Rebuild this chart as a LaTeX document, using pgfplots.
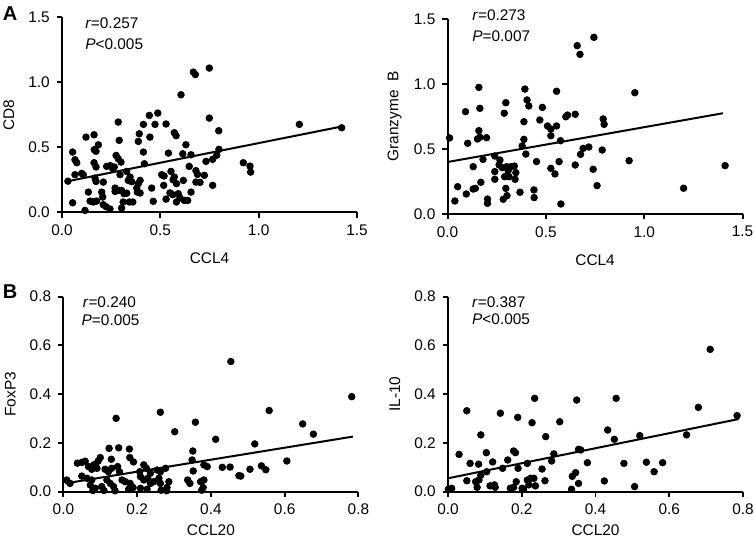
\documentclass[border=0pt]{standalone}
\usepackage{fontspec}
\setmainfont{Liberation Sans}
\usepackage{pgfplots}
\pgfplotsset{compat=1.18}
\newcommand\fs{\fontsize{7.7}{9.2}\selectfont}
\pgfplotsset{
  myax/.style={
    scale only axis, width=147.5pt, height=97.5pt,
    axis x line*=bottom, axis y line*=left,
    axis line style={line width=0.95pt,-},
    tick align=outside, major tick length=2.6pt,
    every tick/.style={black,line width=0.95pt},
    tick label style={font=\fs},
    label style={font=\fs},
    xmin=0, ymin=0,
    clip=false,
    scaled ticks=false,
    /pgf/number format/fixed,
    /pgf/number format/fixed zerofill,
    /pgf/number format/precision=1,
    /pgf/number format/assume math mode=true,
  },
  dots/.style={only marks, mark=*, mark size=1.65pt, black},
  reg/.style={black, line width=1pt, no marks},
}
\begin{document}
\begin{tikzpicture}
% ---------- A left ----------
\begin{axis}[myax, at={(31pt,163.3pt)}, anchor=south west,
  xmax=1.5, ymax=1.5, xtick={0,0.5,1,1.5}, ytick={0,0.5,1,1.5},
  xlabel={CCL4}, ylabel={CD8},
  xlabel style={at={(axis description cs:0.5,-0.236)},anchor=center},
  ylabel style={at={(axis description cs:-0.18,0.5)},anchor=center,rotate=0}]
\addplot[dots] table {
0.668 1.079
0.678 1.06
0.749 1.11
0.605 0.905
0.749 0.725
0.286 0.695
0.444 0.746
0.487 0.764
0.414 0.677
0.473 0.677
0.529 0.68
0.122 0.579
0.163 0.597
0.393 0.605
0.447 0.579
0.571 0.613
0.58 0.59
0.797 0.628
0.291 0.554
0.388 0.546
0.185 0.52
0.164 0.482
0.173 0.47
0.63 0.52
0.054 0.464
0.066 0.405
0.075 0.382
0.414 0.464
0.541 0.456
0.275 0.438
0.286 0.413
0.3 0.387
0.614 0.451
0.656 0.443
0.787 0.44
0.798 0.485
0.163 0.382
0.173 0.349
0.227 0.354
0.245 0.36
0.258 0.336
0.266 0.349
0.329 0.315
0.346 0.272
0.337 0.246
0.419 0.374
0.507 0.29
0.519 0.28
0.554 0.315
0.571 0.272
0.647 0.354
0.681 0.321
0.689 0.292
0.724 0.285
0.732 0.392
0.766 0.408
0.03 0.24
0.066 0.29
0.1 0.3
0.108 0.29
0.168 0.264
0.173 0.238
0.21 0.233
0.295 0.29
0.354 0.236
0.397 0.246
0.388 0.221
0.456 0.187
0.517 0.208
0.565 0.251
0.582 0.221
0.617 0.246
0.681 0.233
0.702 0.231
0.766 0.208
0.054 0.074
0.134 0.156
0.143 0.087
0.159 0.08
0.176 0.087
0.202 0.156
0.207 0.118
0.21 0.059
0.224 0.044
0.244 0.026
0.27 0.187
0.27 0.161
0.292 0.169
0.303 0.169
0.315 0.144
0.311 0.08
0.329 0.148
0.303 0.033
0.343 0.08
0.36 0.08
0.38 0.187
0.383 0.156
0.397 0.149
0.464 0.085
0.529 0.102
0.549 0.15
0.563 0.136
0.591 0.144
0.6 0.111
0.582 0.08
0.622 0.092
0.639 0.092
0.656 0.156
0.117 0.015
0.922 0.382
0.956 0.356
0.959 0.31
1.207 0.677
1.422 0.651
};
\addplot[reg] coordinates {(0.03,0.24) (1.42,0.66)};
\node[anchor=west,font=\fs] at (axis description cs:0.055,0.97) {\textit{r}=0.257};
\node[anchor=west,font=\fs] at (axis description cs:0.055,0.862) {\textit{P}<0.005};
\end{axis}
% ---------- A right ----------
\begin{axis}[myax, at={(223.8pt,162.5pt)}, anchor=south west,
  xmax=1.5, ymax=1.5, xtick={0,0.5,1,1.5}, ytick={0,0.5,1,1.5},
  xlabel={CCL4}, ylabel={Granzyme\ \ B},
  xlabel style={at={(axis description cs:0.5,-0.236)},anchor=center},
  ylabel style={at={(axis description cs:-0.18,0.5)},anchor=center,rotate=0}]
\addplot[dots] table {
0.744 1.359
0.659 1.295
0.673 1.228
0.159 0.974
0.393 0.961
0.554 0.944
0.952 0.933
0.404 0.877
0.413 0.831
0.296 0.856
0.091 0.787
0.164 0.813
0.288 0.775
0.482 0.82
0.388 0.71
0.469 0.723
0.601 0.748
0.61 0.761
0.649 0.767
0.791 0.731
0.796 0.69
0.508 0.677
0.525 0.654
0.554 0.677
0.525 0.602
0.159 0.641
0.152 0.577
0.164 0.59
0.198 0.587
0.01 0.585
0.102 0.544
0.388 0.574
0.379 0.523
0.574 0.564
0.689 0.505
0.718 0.515
0.786 0.492
0.398 0.461
0.18 0.42
0.24 0.446
0.676 0.459
0.13 0.364
0.266 0.415
0.262 0.377
0.278 0.356
0.3 0.364
0.308 0.333
0.322 0.364
0.339 0.369
0.347 0.318
0.312 0.287
0.343 0.267
0.29 0.287
0.24 0.326
0.24 0.267
0.452 0.403
0.525 0.351
0.546 0.308
0.567 0.403
0.649 0.377
0.74 0.344
0.923 0.41
0.76 0.218
0.051 0.21
0.095 0.154
0.13 0.192
0.141 0.197
0.169 0.244
0.296 0.197
0.302 0.141
0.368 0.167
0.439 0.185
0.44 0.126
0.203 0.115
0.203 0.082
0.283 0.113
0.037 0.1
0.576 0.077
1.2 0.198
1.411 0.372
};
\addplot[reg] coordinates {(0.0,0.40) (1.40,0.775)};
\node[anchor=west,font=\fs] at (axis description cs:0.06,1.02) {\textit{r}=0.273};
\node[anchor=west,font=\fs] at (axis description cs:0.06,0.912) {\textit{P}=0.007};
\end{axis}
% ---------- B left ----------
\begin{axis}[myax, at={(31.7pt,23.65pt)}, anchor=south west,
  xmax=0.8, ymax=0.8, xtick={0,0.2,0.4,0.6,0.8}, ytick={0,0.2,0.4,0.6,0.8},
  xlabel={CCL20}, ylabel={FoxP3},
  xlabel style={at={(axis description cs:0.5,-0.2)},anchor=center},
  ylabel style={at={(axis description cs:-0.18,0.5)},anchor=center,rotate=0}]
\addplot[dots] table {
0.143 0.301
0.263 0.326
0.302 0.246
0.358 0.285
0.124 0.178
0.15 0.18
0.179 0.175
0.351 0.167
0.13 0.133
0.18 0.14
0.19 0.122
0.1 0.14
0.094 0.125
0.038 0.117
0.05 0.12
0.059 0.125
0.068 0.103
0.077 0.092
0.082 0.11
0.091 0.096
0.113 0.092
0.122 0.082
0.131 0.096
0.147 0.103
0.152 0.082
0.218 0.11
0.225 0.096
0.207 0.082
0.236 0.076
0.254 0.089
0.263 0.082
0.277 0.096
0.349 0.13
0.352 0.085
0.381 0.11
0.39 0.103
0.009 0.048
0.018 0.034
0.05 0.064
0.064 0.055
0.077 0.048
0.073 0.027
0.086 0.014
0.104 0.021
0.118 0.048
0.127 0.034
0.136 0.021
0.159 0.048
0.168 0.041
0.181 0.034
0.189 0.017
0.209 0.062
0.218 0.048
0.229 0.055
0.236 0.034
0.245 0.041
0.177 0.01
0.209 0.014
0.227 0.01
0.259 0.055
0.263 0.034
0.281 0.017
0.286 0.041
0.337 0.048
0.343 0.034
0.372 0.041
0.381 0.048
0.379 0.017
0.08 0.005
0.11 0.005
0.14 0.004
0.265 0.006
0.28 0.004
0.375 0.006
0.454 0.534
0.782 0.39
0.558 0.333
0.649 0.278
0.678 0.236
0.519 0.196
0.413 0.215
0.606 0.126
0.431 0.1
0.452 0.101
0.476 0.066
0.481 0.064
0.506 0.092
0.537 0.106
0.549 0.09
};
\addplot[reg] coordinates {(0.005,0.034) (0.785,0.226)};
\node[anchor=west,font=\fs] at (axis description cs:0.042,0.972) {\textit{r}=0.240};
\node[anchor=west,font=\fs] at (axis description cs:0.038,0.878) {\textit{P}=0.005};
\end{axis}
% ---------- B right ----------
\begin{axis}[myax, at={(224pt,23.65pt)}, anchor=south west,
  xmax=0.8, ymax=0.8, xtick={0,0.2,0.4,0.6,0.8}, ytick={0,0.2,0.4,0.6,0.8},
  xlabel={CCL20}, ylabel={IL-10},
  xlabel style={at={(axis description cs:0.5,-0.2)},anchor=center},
  ylabel style={at={(axis description cs:-0.18,0.5)},anchor=center,rotate=0}]
\addplot[dots] table {
0.051 0.332
0.142 0.322
0.189 0.305
0.228 0.283
0.303 0.287
0.235 0.383
0.349 0.376
0.433 0.253
0.089 0.233
0.265 0.226
0.451 0.215
0.03 0.153
0.104 0.16
0.178 0.167
0.183 0.16
0.287 0.155
0.354 0.174
0.36 0.171
0.06 0.116
0.083 0.113
0.121 0.122
0.162 0.13
0.215 0.116
0.281 0.126
0.378 0.119
0.19 0.096
0.148 0.096
0.255 0.093
0.089 0.068
0.105 0.082
0.346 0.078
0.337 0.063
0.051 0.045
0.075 0.041
0.084 0.048
0.079 0.018
0.114 0.024
0.126 0.028
0.128 0.018
0.185 0.041
0.169 0.014
0.178 0.018
0.215 0.048
0.224 0.055
0.233 0.055
0.219 0.028
0.237 0.024
0.201 0.014
0.205 0.01
0.263 0.045
0.354 0.034
0.424 0.044
0.01 0.014
0.001 0.01
0.335 0.01
0.711 0.584
0.679 0.346
0.784 0.312
0.647 0.233
0.52 0.23
0.456 0.383
0.477 0.116
0.538 0.121
0.582 0.119
0.559 0.082
0.506 0.021
};
\addplot[reg] coordinates {(0.0,0.055) (0.788,0.298)};
\node[anchor=west,font=\fs] at (axis description cs:0.058,0.972) {\textit{r}=0.387};
\node[anchor=west,font=\fs] at (axis description cs:0.058,0.883) {\textit{P}<0.005};
\end{axis}
\node[font=\bfseries\fontsize{10}{12}\selectfont] at (5pt,262.75pt) {A};
\node[font=\bfseries\fontsize{10}{12}\selectfont] at (5pt,123.75pt) {B};
\pgfresetboundingbox
\path[use as bounding box] (0,0) rectangle (377pt,269.5pt);
\end{tikzpicture}
\end{document}
